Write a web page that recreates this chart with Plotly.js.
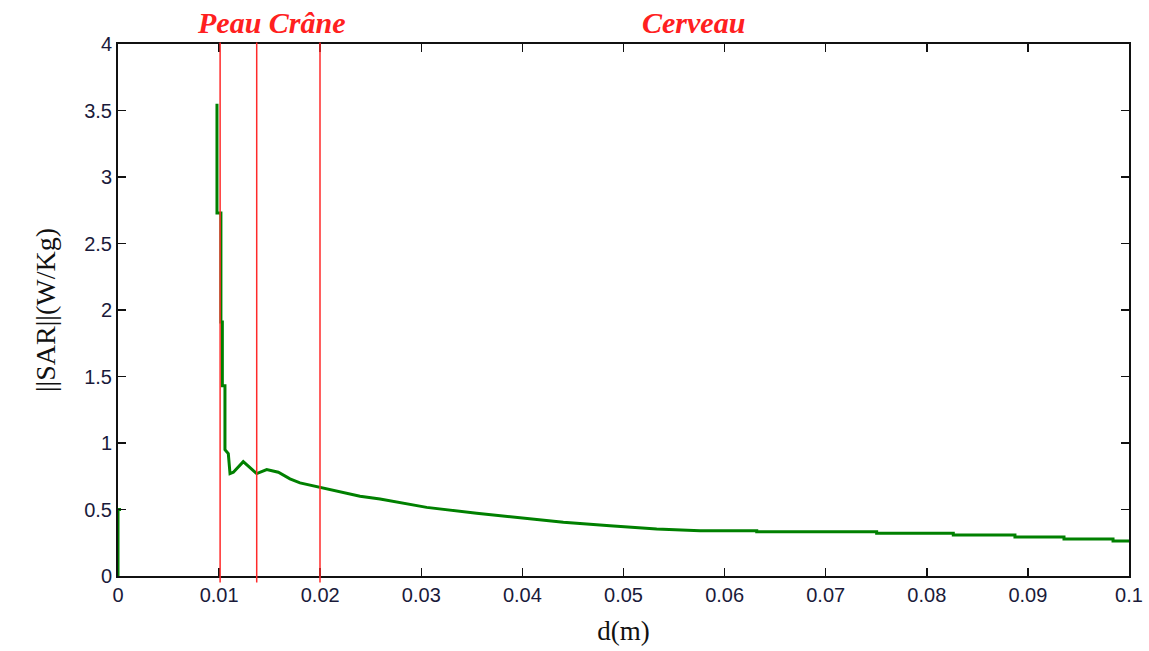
<!DOCTYPE html>
<html>
<head>
<meta charset="utf-8">
<script src="https://cdn.plot.ly/plotly-3.0.1.min.js"></script>
<style>html,body{margin:0;padding:0;background:#fff;}#chart{width:1149px;height:651px;}</style>
</head>
<body>
<div id="chart"></div>
<script>
// Distance d (m) and SAR (W/Kg)
const distance = [0, 0, 0.0003, null,
  0.00979, 0.00979, 0.01018, 0.01018, 0.01032, 0.01032, 0.01058, 0.01058,
  0.01091, 0.01108, 0.01141, 0.01239, 0.01372, 0.01471, 0.01586, 0.01701,
  0.018, 0.01998, 0.02196, 0.02394, 0.02592, 0.03053, 0.03548, 0.04009,
  0.04405, 0.04866, 0.05328, 0.05757, 0.06318, 0.06318, 0.07504, 0.07504,
  0.08262, 0.08262, 0.08872, 0.08872, 0.09357, 0.09357, 0.09842, 0.09842, 0.1];
const sar = [0, 0.5, 0.5, null,
  3.55, 2.73, 2.73, 1.91, 1.91, 1.43, 1.43, 0.95,
  0.92, 0.77, 0.78, 0.86, 0.77, 0.80, 0.78, 0.73,
  0.70, 0.667, 0.634, 0.60, 0.579, 0.516, 0.471, 0.434,
  0.404, 0.378, 0.353, 0.341, 0.341, 0.333, 0.333, 0.321,
  0.321, 0.308, 0.308, 0.293, 0.293, 0.278, 0.278, 0.263, 0.263];

// Tissue boundaries and labels
const boundaries = [0.0101, 0.01372, 0.01998];
const regionLabels = ["Peau Crâne", "Cerveau"];
const regionLabelX = [0.01523, 0.05688];

const xTickVals = [0, 0.01, 0.02, 0.03, 0.04, 0.05, 0.06, 0.07, 0.08, 0.09, 0.1];
const xTickText = ["0", "0.01", "0.02", "0.03", "0.04", "0.05", "0.06", "0.07", "0.08", "0.09", "0.1"];
const yTickVals = [0, 0.5, 1, 1.5, 2, 2.5, 3, 3.5, 4];
const yTickText = ["0", "0.5", "1", "1.5", "2", "2.5", "3", "3.5", "4"];

const trace = {
  x: distance, y: sar, type: 'scatter', mode: 'lines',
  connectgaps: false,
  line: {color: '#008000', width: 3},
  hoverinfo: 'skip'
};

const shapes = boundaries.map(b => ({
  type: 'line', xref: 'x', yref: 'paper', x0: b, x1: b, y0: -0.012, y1: 1.003,
  line: {color: '#ff2a2a', width: 1.5}, layer: 'above'
}));

const annotations = regionLabels.map((t, i) => ({
  text: t, xref: 'x', yref: 'paper', x: regionLabelX[i], y: 1.041,
  xanchor: 'center', yanchor: 'middle', showarrow: false,
  font: {family: '"Liberation Serif", "Times New Roman", serif', size: 30, color: '#ff2020', weight: 'bold', style: 'italic'}
}));

const axisCommon = {
  showgrid: false, zeroline: false, showline: true, linecolor: '#111', linewidth: 2,
  mirror: 'ticks', ticks: 'inside', ticklen: 8, tickwidth: 1.5, tickcolor: '#111',
  tickfont: {family: '"Liberation Sans", Arial, sans-serif', size: 20, color: '#1a1a3a'}
};

const layout = {
  width: 1149, height: 651,
  margin: {l: 118, r: 20, t: 44, b: 75},
  paper_bgcolor: '#fff', plot_bgcolor: '#fff',
  showlegend: false,
  xaxis: Object.assign({}, axisCommon, {
    range: [0, 0.1], tickmode: 'array', tickvals: xTickVals, ticktext: xTickText,
    title: {text: 'd(m)', standoff: 16, font: {family: '"Liberation Serif", "Times New Roman", serif', size: 27, color: '#111'}}
  }),
  yaxis: Object.assign({}, axisCommon, {
    range: [0, 4], tickmode: 'array', tickvals: yTickVals, ticktext: yTickText,
    title: {text: '||SAR||(W/Kg)', standoff: 20, font: {family: '"Liberation Serif", "Times New Roman", serif', size: 28, color: '#111'}}
  }),
  shapes: shapes,
  annotations: annotations
};

Plotly.newPlot('chart', [trace], layout, {displayModeBar: false, staticPlot: true});
</script>
</body>
</html>
